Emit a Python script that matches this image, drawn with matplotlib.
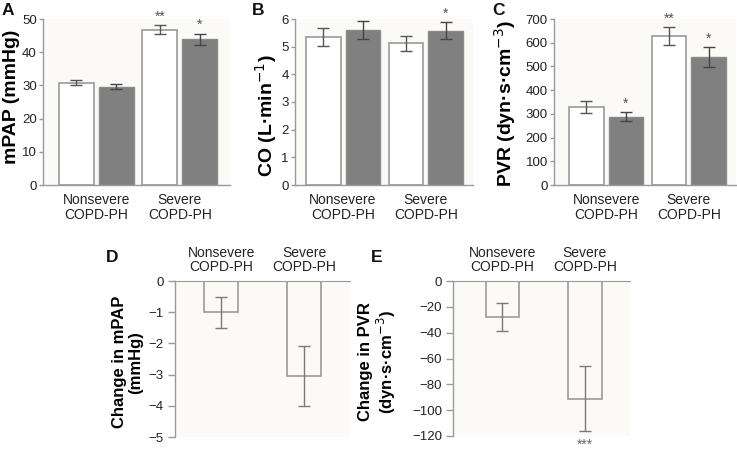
import matplotlib
matplotlib.use("Agg")
import matplotlib.pyplot as plt
import numpy as np

plt.rcParams['font.family'] = ['Liberation Sans', 'DejaVu Sans']

groups = ["Nonsevere\nCOPD-PH", "Severe\nCOPD-PH"]

mpap_white = [30.8, 46.8]
mpap_white_err = [0.7, 1.4]
mpap_gray = [29.6, 43.9]
mpap_gray_err = [0.8, 1.6]
mpap_sig_white = ["", "**"]
mpap_sig_gray = ["", "*"]

co_white = [5.35, 5.12]
co_white_err = [0.32, 0.28]
co_gray = [5.6, 5.58]
co_gray_err = [0.32, 0.3]
co_sig_white = ["", ""]
co_sig_gray = ["", "*"]

pvr_white = [328, 628]
pvr_white_err = [25, 38]
pvr_gray = [288, 540]
pvr_gray_err = [20, 42]
pvr_sig_white = ["", "**"]
pvr_sig_gray = ["*", "*"]

d_mpap = [-1.0, -3.05]
d_mpap_err = [0.5, 0.97]
d_pvr = [-28, -91]
d_pvr_err = [11, 25]
d_pvr_sig = ["", "***"]

W = 737
H = 453
fig = plt.figure(figsize=(W / 100, H / 100), dpi=100)

def ax_at(l, t, r, b):
    return fig.add_axes([l / W, 1 - b / H, (r - l) / W, (b - t) / H])

EDGE = "#9a9a9a"
GRAY = "#808080"
BG = "#fbfaf7"
TXT = "#222222"
TICK_FS = 9.5
CAT_FS = 10

def style(ax):
    ax.set_facecolor(BG)
    for s in ["right", "top"]:
        ax.spines[s].set_visible(False)
    for s in ["left", "bottom"]:
        ax.spines[s].set_color(EDGE)
        ax.spines[s].set_linewidth(1.0)
    ax.tick_params(axis="y", colors=EDGE, labelcolor=TXT, labelsize=TICK_FS, length=3, width=1, pad=1.5)
    ax.tick_params(axis="x", length=0, labelsize=CAT_FS, labelcolor=TXT)

def set_cats(ax):
    ax.set_xticks(np.arange(len(groups)))
    ax.set_xticklabels(groups, fontsize=CAT_FS, linespacing=1.05)

def top_panel(ax, white, werr, gray, gerr, sw, sg, ylim, ticks, ylabel, xlim, labx, laby):
    x = np.arange(len(groups))
    off = 0.24
    w = 0.42
    ax.bar(x - off, white, w, color="white", edgecolor=EDGE, linewidth=1.2, zorder=2)
    ax.bar(x + off, gray, w, color=GRAY, edgecolor="#8a8a8a", linewidth=1.0, zorder=2)
    ax.errorbar(x - off, white, yerr=werr, fmt="none", ecolor="#555555", elinewidth=1, capsize=4, capthick=1, zorder=3)
    ax.errorbar(x + off, gray, yerr=gerr, fmt="none", ecolor="#444444", elinewidth=1, capsize=4, capthick=1, zorder=3)
    span = ylim[1] - ylim[0]
    for i in range(len(groups)):
        if sw[i]:
            ax.text(x[i] - off, white[i] + werr[i] + 0.01 * span, sw[i], ha="center", va="bottom", fontsize=10, color="#555555")
        if sg[i]:
            ax.text(x[i] + off, gray[i] + gerr[i] + 0.01 * span, sg[i], ha="center", va="bottom", fontsize=10, color="#555555")
    ax.set_xlim(*xlim)
    ax.set_ylim(*ylim)
    ax.set_yticks(ticks)
    set_cats(ax)
    ax.set_ylabel(ylabel, fontsize=14, fontweight="bold")
    ax.yaxis.set_label_coords(labx, laby)
    style(ax)
    ax.tick_params(axis="x", pad=6)

axA = ax_at(43, 19, 230, 185)
top_panel(axA, mpap_white, mpap_white_err, mpap_gray, mpap_gray_err, mpap_sig_white, mpap_sig_gray,
          (0, 50), [0, 10, 20, 30, 40, 50], "mPAP (mmHg)", (-0.64, 1.60), -0.125, 0.53)
axB = ax_at(295, 19, 473, 185)
top_panel(axB, co_white, co_white_err, co_gray, co_gray_err, co_sig_white, co_sig_gray,
          (0, 6), [0, 1, 2, 3, 4, 5, 6], "CO (L·min$^{-1}$)", (-0.58, 1.57), -0.09, 0.42)
axC = ax_at(554, 19, 736, 185)
top_panel(axC, pvr_white, pvr_white_err, pvr_gray, pvr_gray_err, pvr_sig_white, pvr_sig_gray,
          (0, 700), [0, 100, 200, 300, 400, 500, 600, 700], "PVR (dyn·s·cm$^{-3}$)", (-0.63, 1.57), -0.20, 0.49)

def bottom_panel(ax, vals, errs, sig, ylim, ticks, ylabel, xlim, labx):
    x = np.arange(len(groups))
    w = 0.41
    ax.bar(x, vals, w, color=BG, edgecolor=EDGE, linewidth=1.2, zorder=2)
    ax.errorbar(x, vals, yerr=errs, fmt="none", ecolor="#7a7a7a", elinewidth=1, capsize=4, capthick=1, zorder=3)
    span = ylim[1] - ylim[0]
    for i in range(len(groups)):
        if sig[i]:
            ax.text(x[i], vals[i] - errs[i] - 0.045 * span, sig[i], ha="center", va="top", fontsize=10,
                    color="#666666", clip_on=False)
    ax.set_xlim(*xlim)
    ax.set_ylim(*ylim)
    ax.set_yticks(ticks)
    ax.set_yticklabels([("\u2212" + str(abs(t))) if t < 0 else str(t) for t in ticks])
    set_cats(ax)
    ax.set_ylabel(ylabel, fontsize=12, fontweight="bold", linespacing=1.1)
    ax.yaxis.set_label_coords(labx, 0.48)
    style(ax)
    ax.spines["bottom"].set_visible(False)
    ax.spines["top"].set_visible(True)
    ax.spines["top"].set_color(EDGE)
    ax.xaxis.tick_top()
    ax.tick_params(axis="x", length=0, pad=5)
    ax.tick_params(axis="y", length=5, pad=3)

axD = ax_at(175, 281, 350, 437)
bottom_panel(axD, d_mpap, d_mpap_err, ["", ""], (-5, 0), [0, -1, -2, -3, -4, -5],
             "Change in mPAP\n(mmHg)", (-0.56, 1.55), -0.183)
axE = ax_at(453, 281, 630, 436)
bottom_panel(axE, d_pvr, d_pvr_err, d_pvr_sig, (-120, 0), [0, -20, -40, -60, -80, -100, -120],
             "Change in PVR\n(dyn·s·cm$^{-3}$)", (-0.60, 1.55), -0.31)

for lab, px, py in [("A", 2, 3), ("B", 252, 3), ("C", 492, 3), ("D", 106, 250), ("E", 371, 250)]:
    fig.text(px / W, 1 - py / H, lab, fontsize=12.5, fontweight="bold", ha="left", va="top", color="#111111")

fig.savefig("out.png", dpi=100)
